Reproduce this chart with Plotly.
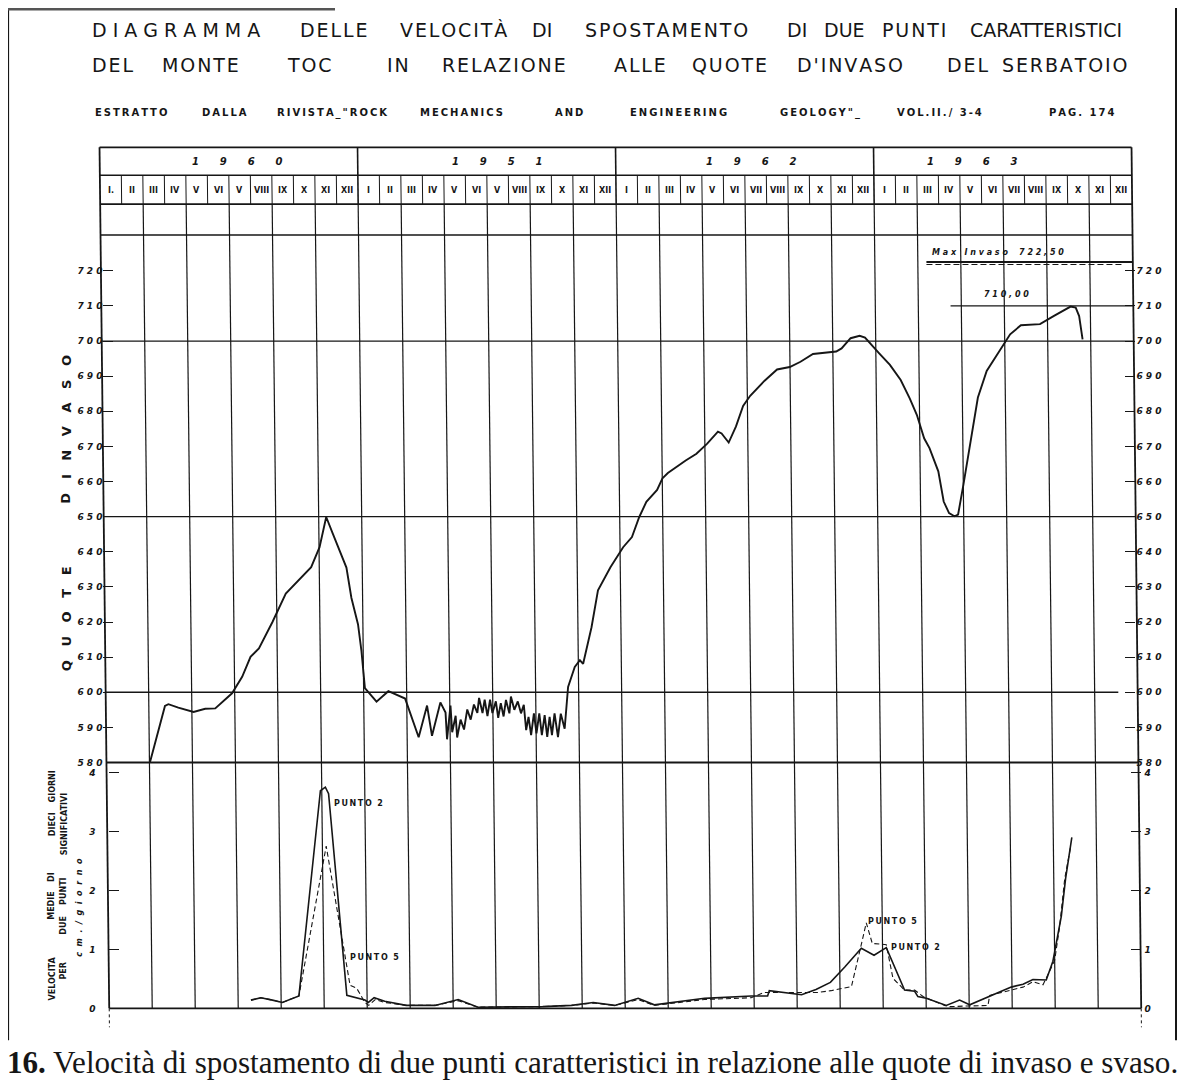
import plotly.graph_objects as go

# The page body keeps an 8 px margin, so the figure is 8 px smaller on each axis
# and every layout position below is expressed in screenshot pixels.
W, H = 1200, 1090
BODY = 8
FW, FH = W - BODY, H - BODY
NB = "\u00a0"
HAIR = "\u200a"
THIN = "\u2009"

# ---------------- data ----------------
# months counted from 1 Jan 1960 (0 = start of 1960, 48 = end of 1963)
quota_month = [2.16, 2.55, 2.86, 3.02, 3.48, 4.19, 4.73, 5.2, 5.98, 6.45,
               6.84, 7.23, 7.86, 8.48, 8.95, 9.66, 10.05, 10.36, 10.67, 11.3,
               11.53, 11.84, 12.0, 12.16, 12.7, 13.25, 14.03, 14.66, 15.05, 15.28,
               15.67, 15.91,
               15.98, 16.14, 16.22, 16.38, 16.45, 16.61, 16.77, 16.92, 17.08, 17.23,
               17.39, 17.47, 17.63, 17.73, 17.86, 17.98, 18.09, 18.25, 18.36, 18.48,
               18.61, 18.72, 18.88, 18.95, 19.11, 19.27, 19.42, 19.55, 19.66, 19.77,
               19.89, 20.02, 20.14, 20.27, 20.39, 20.52, 20.64, 20.75, 20.86, 20.98,
               21.14, 21.27, 21.45,
               21.61, 21.92, 22.16, 22.31, 22.7, 23.0, 23.58, 24.17, 24.58, 24.92,
               25.25, 25.75, 26.0, 26.25, 27.08, 27.58, 28.08, 28.58, 28.75, 29.08,
               29.42, 29.75, 30.08, 30.75, 31.33, 31.92, 32.42, 33.0, 34.08, 34.33,
               34.75, 35.17, 35.42, 36.08, 36.58, 37.08, 37.5, 37.83, 38.17, 38.42,
               38.83, 39.08, 39.33, 39.58, 39.75, 40.0, 40.25, 40.67, 41.08, 41.58,
               42.17, 42.67, 43.56, 44.19, 44.98, 45.22, 45.38, 45.54]
quota_level = [580.0, 589.4, 596.1, 596.6, 595.6, 594.4, 595.3, 595.4, 599.7, 604.4,
               610.1, 612.5, 620.0, 628.1, 631.0, 635.6, 641.3, 649.9, 645.1, 635.5,
               626.9, 619.3, 611.7, 601.2, 597.3, 600.3, 598.2, 587.2, 596.2, 587.6,
               597.1, 594.2,
               586.6, 596.2, 588.6, 593.3, 587.1, 592.2, 589.4, 595.1, 592.2, 596.5,
               594.1, 598.4, 594.1, 597.9, 593.2, 597.9, 594.1, 597.4, 592.7, 596.9,
               593.1, 597.8, 594.0, 598.8, 595.0, 597.4, 594.0, 596.4, 589.2, 593.0,
               587.8, 594.0, 588.3, 594.0, 587.8, 593.5, 587.3, 593.0, 587.8, 594.0,
               587.2, 593.9, 589.6,
               601.5, 607.2, 609.1, 608.1, 618.5, 629.0, 635.6, 641.3, 644.2, 649.9,
               654.2, 657.6, 660.9, 662.4, 666.0, 667.9, 670.8, 674.2, 673.7, 671.1,
               675.7, 681.5, 684.4, 688.7, 691.9, 692.6, 694.1, 696.3, 697.0, 697.9,
               700.8, 701.5, 701.0, 696.5, 693.2, 688.9, 683.7, 679.0, 672.3, 669.5,
               662.9, 654.3, 651.0, 650.1, 650.6, 659.2, 668.7, 683.9, 691.5, 696.3,
               701.9, 704.5, 704.8, 707.1, 709.8, 709.5, 707.1, 700.5]

p2_month = [6.62, 7.08, 7.62, 8.08, 8.85, 9.85, 10.08, 10.23, 11.08, 11.92,
            12.08, 12.35, 12.84, 13.84, 15.18, 16.26, 17.18, 20.19, 21.53, 22.54,
            23.54, 24.63, 25.38, 27.72, 29.89, 30.65, 30.73, 31.9, 32.23, 32.9,
            33.57, 34.24, 35.01, 35.6, 36.17, 37.02, 37.49, 37.64, 38.03, 38.96,
            39.58, 40.05, 41.98, 42.53, 42.99, 43.61, 43.92, 44.31, 44.51, 44.8]
p2_vel = [0.14, 0.18, 0.14, 0.10, 0.21, 3.69, 3.75, 3.64, 0.22, 0.14,
          0.10, 0.18, 0.12, 0.05, 0.05, 0.15, 0.02, 0.03, 0.05, 0.10,
          0.05, 0.17, 0.06, 0.17, 0.21, 0.21, 0.30, 0.25, 0.23, 0.32,
          0.44, 0.70, 1.02, 0.90, 1.03, 0.31, 0.29, 0.20, 0.17, 0.05,
          0.14, 0.06, 0.36, 0.41, 0.49, 0.48, 0.80, 1.56, 2.20, 2.90]

p5_month = [6.62, 7.08, 7.62, 8.08, 8.85, 10.12, 11.23, 11.54, 11.92, 12.1,
            12.4, 12.84, 13.84, 15.18, 16.26, 17.18, 20.19, 21.53, 22.54, 23.54,
            24.63, 25.38, 27.72, 29.89, 30.5, 32.0, 33.0, 33.6, 34.55, 34.93,
            35.24, 35.52, 36.17, 36.48, 37.02, 37.49, 37.88, 38.88, 39.12, 39.97,
            40.9, 40.98, 41.91, 42.53, 42.99, 43.46, 44.0, 44.23, 44.47, 44.75]
p5_vel = [0.14, 0.18, 0.14, 0.10, 0.21, 2.75, 0.39, 0.34, 0.10, 0.05,
          0.15, 0.10, 0.05, 0.05, 0.13, 0.02, 0.03, 0.05, 0.09, 0.05,
          0.15, 0.05, 0.15, 0.18, 0.27, 0.27, 0.27, 0.30, 0.37, 0.96,
          1.45, 1.10, 1.08, 0.51, 0.31, 0.31, 0.20, 0.05, 0.03, 0.04,
          0.05, 0.22, 0.30, 0.36, 0.45, 0.40, 0.81, 1.38, 2.20, 2.75]

year_labels = ["1960", "1951", "1962", "1963"]
month_labels = [
    ["I.", "II", "III", "IV", "V", "VI", "V", "VIII", "IX", "X", "XI", "XII"],
    ["I", "II", "III", "IV", "V", "VI", "V", "VIII", "IX", "X", "XI", "XII"],
    ["I", "II", "III", "IV", "V", "VI", "VII", "VIII", "IX", "X", "XI", "XII"],
    ["I", "II", "III", "IV", "V", "VI", "VII", "VIII", "IX", "X", "XI", "XII"],
]
quota_ticks = [580, 590, 600, 610, 620, 630, 640, 650, 660, 670, 680, 690, 700, 710, 720]
vel_ticks = [0, 1, 2, 3, 4]
grid_months = [2, 4, 6, 8, 10, 12, 14, 16, 18, 20, 22, 24, 26, 28, 30, 32, 34, 36,
               38, 40, 42, 44, 46]
quota_ref_lines = [700, 650, 600]
max_invaso = 722.50
quota_sept63 = 710.00


# ---------------- helpers ----------------
def px(x):
    return (x - BODY) / FW


def py(y):
    return 1 - (y - BODY) / FH


def spaced(s, sep):
    return sep.join(list(s))


# the scanned sheet is slightly rotated: vertical rules drift right going down
HX0, HX1 = 100, 1132
SLANT = 0.0112


def hx(m, y=190):
    """screen x of month boundary m at screen height y"""
    return HX0 + m * (HX1 - HX0) / 48 + SLANT * (y - 190)


INK = "#161616"
fig = go.Figure()

fig.add_trace(go.Scatter(x=quota_month, y=quota_level, mode="lines",
                         line=dict(color=INK, width=1.9), xaxis="x", yaxis="y",
                         name="Quota d'invaso"))
fig.add_trace(go.Scatter(x=p2_month, y=p2_vel, mode="lines",
                         line=dict(color=INK, width=1.6), xaxis="x2", yaxis="y2",
                         name="Punto 2"))
fig.add_trace(go.Scatter(x=p5_month, y=p5_vel, mode="lines",
                         line=dict(color=INK, width=1.1, dash="5px,3px"),
                         xaxis="x2", yaxis="y2", name="Punto 5"))
# empty traces so that the right-hand axes are drawn
fig.add_trace(go.Scatter(x=[], y=[], xaxis="x", yaxis="y3", showlegend=False))
fig.add_trace(go.Scatter(x=[], y=[], xaxis="x2", yaxis="y4", showlegend=False))

Y_TOP, Y_580, Y_V0 = 236, 766, 1013
Q_RANGE = [580, 580 + (Y_580 - Y_TOP) / ((Y_580 - 272) / 140)]
V_RANGE = [0, (Y_V0 - Y_580) / ((Y_V0 - 776) / 4)]
QX_SHIFT = SLANT * (500 - 190)      # level diagram sits mid-way down the sheet
VX_SHIFT = SLANT * (960 - 190)      # velocity diagram near the bottom

tickfont_q = dict(family="DejaVu Sans", size=9, color=INK, weight="bold", style="italic")
q_text = [spaced(str(v), NB) for v in quota_ticks]
v_text = [str(v) for v in vel_ticks]

common_y = dict(showgrid=False, zeroline=False, showline=False, ticks="inside",
                ticklen=10, tickwidth=1.4, tickcolor=INK, fixedrange=True)

fig.update_layout(
    width=FW, height=FH, margin=dict(l=0, r=0, t=0, b=0),
    paper_bgcolor="white", plot_bgcolor="rgba(0,0,0,0)", showlegend=False,
    xaxis=dict(domain=[px(HX0 + QX_SHIFT), px(HX1 + QX_SHIFT)], range=[0, 48],
               visible=False, fixedrange=True, anchor="y"),
    xaxis2=dict(domain=[px(HX0 + VX_SHIFT), px(HX1 + VX_SHIFT)], range=[0, 48],
                visible=False, fixedrange=True, anchor="y2"),
    yaxis=dict(domain=[py(Y_580), py(Y_TOP)], range=Q_RANGE, anchor="x", side="left",
               tickvals=quota_ticks, ticktext=q_text, tickfont=tickfont_q, **common_y),
    yaxis3=dict(domain=[py(Y_580), py(Y_TOP)], range=Q_RANGE, anchor="x", overlaying="y",
                side="right", tickvals=quota_ticks, ticktext=q_text, tickfont=tickfont_q,
                **common_y),
    yaxis2=dict(domain=[py(Y_V0), py(Y_580)], range=V_RANGE, anchor="x2", side="left",
                tickvals=vel_ticks, ticktext=v_text, tickfont=tickfont_q,
                ticklabelstandoff=12, **common_y),
    yaxis4=dict(domain=[py(Y_V0), py(Y_580)], range=V_RANGE, anchor="x2", overlaying="y2",
                side="right", tickvals=vel_ticks, ticktext=v_text, tickfont=tickfont_q,
                ticklabelstandoff=3, **common_y),
)

shapes = []


def pline(x0, y0, x1, y1, w=1.4, dash=None, color=INK):
    shapes.append(dict(type="line", xref="paper", yref="paper", x0=px(x0), y0=py(y0),
                       x1=px(x1), y1=py(y1), line=dict(color=color, width=w, dash=dash)))


def mline(m, y0, y1, w=1.2):
    pline(hx(m, y0), y0, hx(m, y1), y1, w=w)


def hrule(y, m0=0, m1=48, w=1.4, dash=None):
    pline(hx(m0, y), y, hx(m1, y), y, w=w, dash=dash)


def qy(q):
    return Y_580 - (q - 580) * (Y_580 - 272) / 140


# outer frame of the scanned sheet
pline(8, 8, 8, 1045, w=2.2)
pline(1176, 8, 1176, 1045, w=2.0)
pline(8, 9, 335, 9, w=3, color="#555555")

# header table
HT, HM, HB = 148, 176, 205
hrule(HT, w=1.6)
hrule(HM, w=1.4)
hrule(HB, w=1.6)
for m in range(1, 48):
    if m % 12:
        mline(m, HM, HB, w=1)
for m in [12, 24, 36]:
    mline(m, HT, HB, w=1.6)

# side frame lines of the chart
mline(0, HT, Y_V0, w=1.8)
mline(48, HT, Y_V0, w=1.8)
pline(hx(48, 1013), 1013, hx(48, 1032), 1032, w=1, dash="dot")
pline(hx(0, 1013), 1013, hx(0, 1032), 1032, w=1, dash="dot")

# vertical grid every two months
for m in grid_months:
    mline(m, HB, Y_V0, w=1.2)

# horizontal rules
hrule(Y_TOP, w=1.5)
for q in quota_ref_lines:
    hrule(qy(q), 0, 48 if q != 600 else 47.1, w=1.3)
hrule(Y_580, w=1.8)
hrule(Y_V0, w=1.8)
# max invaso (double line) and 710 line
hrule(qy(max_invaso), 38.4, 48, w=2)
hrule(qy(max_invaso) + 2.5, 38.4, 47.6, w=1.2, dash="6px,3px")
hrule(qy(quota_sept63), 39.5, 48, w=1.2)

fig.update_layout(shapes=shapes)

ann = []


def text(x, y, s, size=10, bold=False, italic=False, family="DejaVu Sans", xanchor="left",
         angle=0, yanchor="middle"):
    ann.append(dict(x=px(x), y=py(y), xref="paper", yref="paper", text=s, showarrow=False,
                    xanchor=xanchor, yanchor=yanchor, textangle=angle,
                    font=dict(family=family, size=size, color=INK,
                              weight="bold" if bold else "normal",
                              style="italic" if italic else "normal")))


# title lines
title1 = [("DIAGRAMMA", 90, " "), ("DELLE", 298, HAIR), ("VELOCITÀ", 398, HAIR), ("DI", 530, ""),
          ("SPOSTAMENTO", 583, HAIR), ("DI", 785, ""), ("DUE", 822, ""), ("PUNTI", 880, HAIR),
          ("CARATTERISTICI", 968, "")]
title2 = [("DEL", 90, HAIR), ("MONTE", 160, HAIR), ("TOC", 285, HAIR), ("IN", 385, HAIR),
          ("RELAZIONE", 440, HAIR), ("ALLE", 612, HAIR), ("QUOTE", 690, HAIR),
          ("D'INVASO", 795, HAIR), ("DEL", 945, HAIR), ("SERBATOIO", 1000, HAIR)]
title3 = [("ESTRATTO", 93), ("DALLA", 200), ('RIVISTA_"ROCK', 275), ("MECHANICS", 418),
          ("AND", 553), ("ENGINEERING", 628), ('GEOLOGY"_', 778), ("VOL.II./ 3-4", 895),
          ("PAG. 174", 1047)]
for w, x, sep in title1:
    text(x, 30, spaced(w, sep) if sep else w, size=19)
for w, x, sep in title2:
    text(x, 65, spaced(w, sep) if sep else w, size=19)
for w, x in title3:
    text(x, 113, spaced(w, THIN), size=10, bold=True)

# header: years and months
year_centre = [6.4, 18.5, 30.3, 40.6]
for i, yl in enumerate(year_labels):
    text(hx(year_centre[i], 162), 162, spaced(yl, NB * 6), size=10, bold=True, italic=True,
         xanchor="center")
    for j, ml in enumerate(month_labels[i]):
        text(hx(i * 12 + j + 0.5, 191), 191, ml, size=8, bold=True, xanchor="center")

# axis titles
text(66, 622, spaced("QUOTE", NB * 3), size=13, bold=True, xanchor="center", angle=-90)
text(66, 501, "D", size=13, bold=True, xanchor="center", angle=-90)
text(66, 419, spaced("INVASO", NB * 3), size=13, bold=True, xanchor="center", angle=-90)
for w, yc in [("VELOCITA", 983), ("MEDIE", 910), ("DI", 881), ("DIECI", 828), ("GIORNI", 790)]:
    text(52, yc, w, size=8, bold=True, xanchor="center", angle=-90)
for w, yc in [("PER", 975), ("DUE", 930), ("PUNTI", 895), ("SIGNIFICATIVI", 828)]:
    text(64, yc, w, size=8, bold=True, xanchor="center", angle=-90)
text(80, 912, spaced("cm./giorno", NB * 2), size=8, bold=True, italic=True,
     xanchor="center", angle=-90)

# annotations in the plot
text(930, 254, spaced("Max", NB) + NB * 3 + spaced("Invaso", NB) + NB * 4 + spaced("722,50", NB),
     size=8, bold=True, italic=True)
text(982, 296, spaced("710,00", NB), size=8, bold=True, italic=True)
text(332, 807, spaced("PUNTO", THIN) + NB * 2 + "2", size=8, bold=True)
text(348, 962, spaced("PUNTO", THIN) + NB * 2 + "5", size=8, bold=True)
text(866, 926, spaced("PUNTO", THIN) + NB * 2 + "5", size=8, bold=True)
text(889, 952, spaced("PUNTO", THIN) + NB * 2 + "2", size=8, bold=True)

# caption
text(5, 1067, "<b>16.</b> Velocità di spostamento di due punti caratteristici in relazione "
              "alle quote di invaso e svaso.", size=31.1, family="Liberation Serif")

fig.update_layout(annotations=ann)
fig.write_html("out.html")
